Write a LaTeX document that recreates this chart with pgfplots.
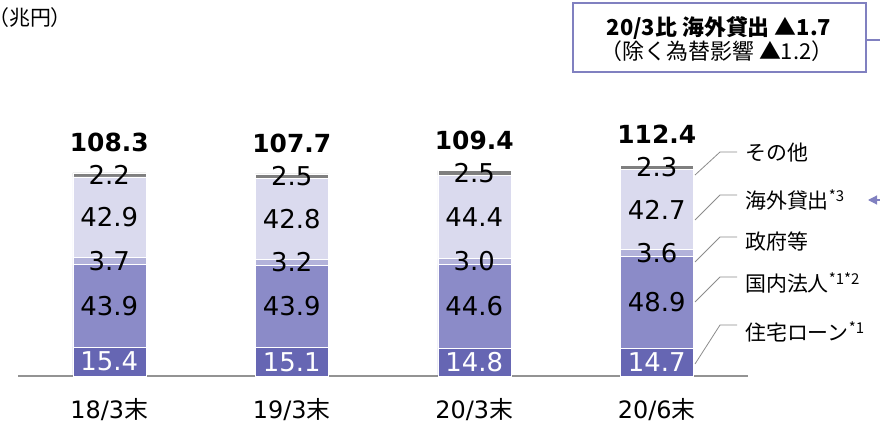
\documentclass[border=0pt]{standalone}
\usepackage{fontspec}
\setmainfont{DejaVu Sans}
\newfontfamily\jp{Noto Sans CJK JP}
\usepackage{pgfplots}
\pgfplotsset{compat=1.18}
\usepackage{pgfplotstable}
\usetikzlibrary{arrows.meta}

\definecolor{cHouse}{HTML}{6666B3}
\definecolor{cCorp}{HTML}{8B8BC8}
\definecolor{cGov}{HTML}{B2B2DA}
\definecolor{cOver}{HTML}{DADAEE}
\definecolor{cOther}{HTML}{7F7F7F}
\definecolor{cBox}{HTML}{8080C0}
\definecolor{cLead}{HTML}{8C8C8C}

% 兆円
\pgfplotstableread{
x house corp gov over other total
0 15.4 43.9 3.7 42.9 2.2 108.3
1 15.1 43.9 3.2 42.8 2.5 107.7
2 14.8 44.6 3.0 44.4 2.5 109.4
3 14.7 48.9 3.6 42.7 2.3 112.4
}\loans

\pgfplotsset{
  frame/.style={
    at={(18bp,48bp)}, anchor=south west,
    scale only axis, width=730bp, height=225.6bp,
    xmin=-0.5, xmax=3.5, ymin=0, ymax=120,
    bar width=73bp, clip=false, point meta=explicit,
    /pgf/number format/.cd, fixed, fixed zerofill, precision=1,
    assume math mode=true, /pgfplots/.cd,
  },
  seg/.style={
    fill=#1, draw=white, line width=0.4pt,
    nodes near coords,
    every node near coord/.append style={anchor=center, text=black,
      font=\fontsize{26}{28}\selectfont},
  },
}

\begin{document}
\begin{tikzpicture}[x=1bp,y=1bp]
\path[use as bounding box] (0,0) rectangle (880,424);
\begin{axis}[
  frame, ybar stacked,
  axis x line=bottom, axis y line=none,
  x axis line style={-, draw=gray!85, line width=1.2pt},
  xtick={0,1,2,3},
  xticklabels={18/3{\jp 末},19/3{\jp 末},20/3{\jp 末},20/6{\jp 末}},
  major tick length=0pt,
  xticklabel style={font=\fontsize{24}{26}\selectfont, anchor=base, yshift=-42bp},
]
\addplot[seg=cHouse, every node near coord/.append style={text=white}]
  table[x=x, y=house, meta=house] {\loans};
\addplot[seg=cCorp] table[x=x, y=corp, meta=corp] {\loans};
\addplot[seg=cGov] table[x=x, y=gov, meta=gov] {\loans};
\addplot[seg=cOver] table[x=x, y=over, meta=over] {\loans};
\addplot[seg=cOther] table[x=x, y=other, meta=other] {\loans};
\end{axis}
% totals above the bars
\begin{axis}[frame, ybar, hide axis]
\addplot[draw=none, fill=none, nodes near coords,
  every node near coord/.append style={anchor=base, yshift=21bp,
    font=\bfseries\fontsize{25}{27}\selectfont}]
  table[x=x, y=total, meta=total] {\loans};
\end{axis}

% unit
\node[anchor=west, inner sep=0, font=\jp\fontsize{21}{23}\selectfont] at (-12,406) {（兆円）};

% legend labels with leader lines
\begin{scope}[cLead, line width=0.8pt]
\draw (695,249) -- (720,272) -- (737,272);
\draw (695,204) -- (720,229) -- (737,229);
\draw (695,162) -- (720,187) -- (737,187);
\draw (695,122) -- (720,147) -- (737,147);
\draw (695,60) -- (720,99) -- (737,99);
\end{scope}
\begin{scope}[every node/.style={anchor=west, inner sep=0, font=\jp\fontsize{21}{23}\selectfont}]
\node at (745,271) {その他};
\node at (745,224) {海外貸出\textsuperscript{\fontsize{15}{15}\selectfont *3}};
\node at (745,182) {政府等};
\node at (745,141) {国内法人\textsuperscript{\fontsize{15}{15}\selectfont *1*2}};
\node at (745,92) {住宅ローン\textsuperscript{\fontsize{15}{15}\selectfont *1}};
\end{scope}

% callout box
\draw[cBox, line width=1.2pt, fill=white] (573,352) rectangle (866,421);
\node[font=\jp\bfseries\fontsize{22}{24}\selectfont] at (719,396) {20/3比 海外貸出 ▲1.7};
\node[font=\jp\fontsize{22}{24}\selectfont] at (717,373) {（除く為替影響 ▲1.2）};
\draw[cBox, line width=1.2pt] (866,384) -- (880,384);
\draw[cBox, line width=1.2pt, -{Triangle[length=9bp,width=9bp]}] (880,224) -- (868,224);
\end{tikzpicture}
\end{document}
